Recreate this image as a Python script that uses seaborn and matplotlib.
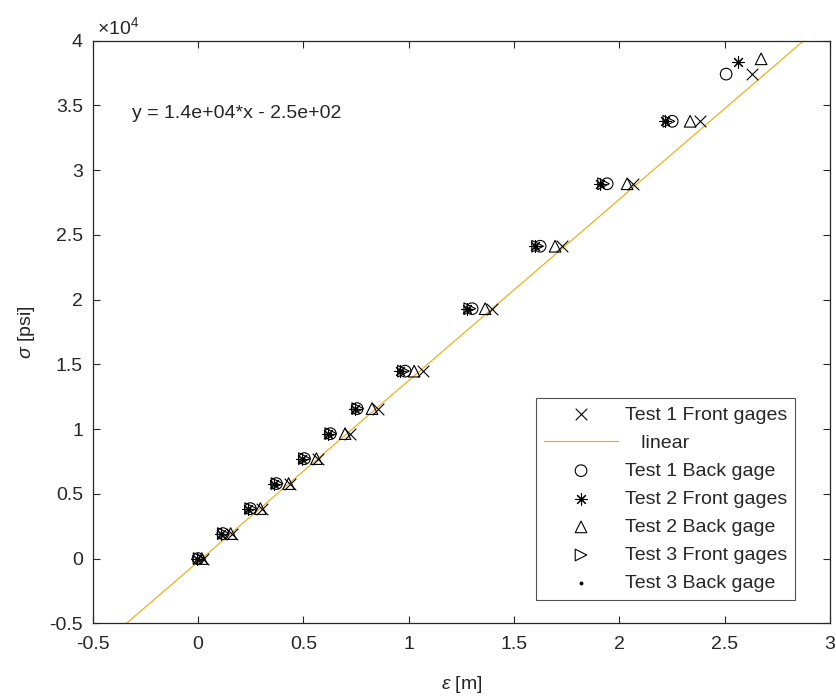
import numpy as np
import pandas as pd
import matplotlib
matplotlib.use("Agg")
import matplotlib.pyplot as plt
import seaborn as sns
from matplotlib.ticker import FuncFormatter, MultipleLocator

# ---- data ----
stress = [0, 1930, 3860, 5790, 7720, 9650, 11580, 14475, 19300, 24125, 28950, 33775]

t1_front_strain = [0.024, 0.161, 0.304, 0.437, 0.570, 0.722, 0.855, 1.068, 1.396, 1.728, 2.066, 2.384, 2.631]
t1_front_stress = stress + [37400]

t1_back_strain = [0.000, 0.118, 0.248, 0.372, 0.505, 0.628, 0.755, 0.983, 1.301, 1.624, 1.942, 2.251, 2.507]
t1_back_stress = stress + [37420]

t2_front_strain = [-0.005, 0.110, 0.238, 0.362, 0.494, 0.617, 0.745, 0.959, 1.277, 1.600, 1.909, 2.217, 2.564]
t2_front_stress = stress + [38380]

t2_back_strain = [0.018, 0.155, 0.296, 0.430, 0.562, 0.698, 0.826, 1.026, 1.363, 1.695, 2.037, 2.336, 2.673]
t2_back_stress = stress + [38600]

t3_front_strain = [0.005, 0.120, 0.250, 0.375, 0.505, 0.630, 0.758, 0.975, 1.290, 1.612, 1.925, 2.235]
t3_front_stress = stress

t3_back_strain = [0.000, 0.115, 0.244, 0.368, 0.500, 0.625, 0.750, 0.970, 1.285, 1.606, 1.918, 2.228]
t3_back_stress = stress

fit_slope = 1.4e4
fit_intercept = -2.5e2
fit_x = [-0.5, 3.0]
fit_label = "y = 1.4e+04*x - 2.5e+02"

# ---- style ----
sns.set_style("ticks")
plt.rcParams["font.family"] = ["Liberation Sans", "DejaVu Sans"]
plt.rcParams["mathtext.fontset"] = "custom"
plt.rcParams["mathtext.rm"] = "Liberation Sans"
plt.rcParams["mathtext.it"] = "Liberation Sans:italic"
plt.rcParams["axes.unicode_minus"] = False

FS = 14
TXT = "#262626"

fig = plt.figure(figsize=(8.36, 6.96), dpi=100)
ax = fig.add_axes([92.7 / 836, (696 - 623.3) / 696, (830 - 92.7) / 836, (623.3 - 40.7) / 696])

ms = 70
lw = 0.8

sns.scatterplot(x=t1_front_strain, y=t1_front_stress, marker="x", s=ms, color="k",
                linewidth=lw, ax=ax, label="Test 1 Front gages", zorder=3)
fit_y = [fit_slope * v + fit_intercept for v in fit_x]
sns.lineplot(x=fit_x, y=fit_y, color="#EDB120", linewidth=0.9, ax=ax, label="   linear", zorder=2)
sns.scatterplot(x=t1_back_strain, y=t1_back_stress, marker="o", s=ms, facecolor="none",
                edgecolor="k", linewidth=lw, ax=ax, label="Test 1 Back gage", zorder=3)
sns.scatterplot(x=t2_front_strain, y=t2_front_stress, marker=(8, 2, 0), s=ms, color="k",
                linewidth=lw, ax=ax, label="Test 2 Front gages", zorder=3)
sns.scatterplot(x=t2_back_strain, y=t2_back_stress, marker="^", s=ms, facecolor="none",
                edgecolor="k", linewidth=lw, ax=ax, label="Test 2 Back gage", zorder=3)
sns.scatterplot(x=t3_front_strain, y=t3_front_stress, marker=">", s=ms, facecolor="none",
                edgecolor="k", linewidth=lw, ax=ax, label="Test 3 Front gages", zorder=3)
sns.scatterplot(x=t3_back_strain, y=t3_back_stress, marker="o", s=8, color="k",
                linewidth=0, ax=ax, label="Test 3 Back gage", zorder=3)

ax.set_xlim(-0.5, 3)
ax.set_ylim(-5000, 40000)
ax.xaxis.set_major_locator(MultipleLocator(0.5))
ax.yaxis.set_major_locator(MultipleLocator(5000))
ax.xaxis.set_major_formatter(FuncFormatter(lambda v, p: f"{v:g}"))
ax.yaxis.set_major_formatter(FuncFormatter(lambda v, p: f"{v / 1e4:g}"))

for sp in ax.spines.values():
    sp.set_visible(True)
    sp.set_color(TXT)
    sp.set_linewidth(0.9)

ax.tick_params(direction="in", length=5, width=0.8, top=True, right=True,
               labelsize=FS, colors=TXT, labelcolor=TXT)
ax.tick_params(axis="x", pad=9)
ax.tick_params(axis="y", pad=7)

ax.set_xlabel(r"$\epsilon$ [m]", fontsize=FS, color=TXT, labelpad=15)
ax.set_ylabel(r"$\sigma$ [psi]", fontsize=FS, color=TXT, labelpad=9)

ax.text(0.006, 1.004, r"$\times10^{4}$", transform=ax.transAxes, fontsize=FS,
        color=TXT, ha="left", va="bottom")

ax.text(-0.315, 34400, fit_label, fontsize=FS, color=TXT, ha="left", va="center")

leg = ax.legend(loc="lower right", fontsize=FS, frameon=True, fancybox=False,
                edgecolor=TXT, labelspacing=0.54, handlelength=3.8, handletextpad=0.36,
                borderpad=0.4, borderaxespad=0)
leg.set_bbox_to_anchor((795 / 836, (696 - 600) / 696), transform=fig.transFigure)
leg.get_frame().set_linewidth(0.8)

fig.savefig("out.png", dpi=100, facecolor="white")
